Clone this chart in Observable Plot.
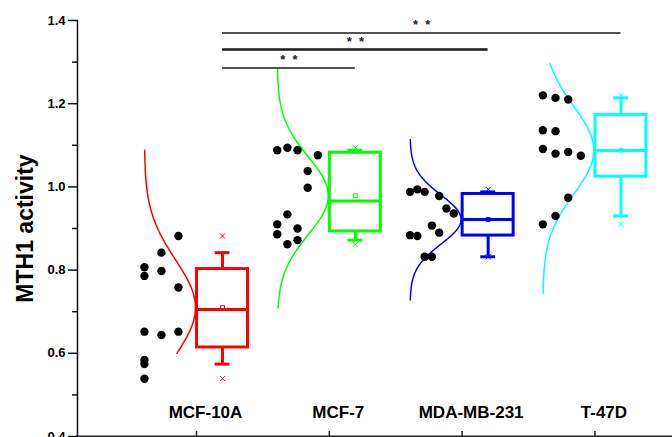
<!DOCTYPE html>
<html>
<head>
<meta charset="utf-8">
<script src="https://cdn.jsdelivr.net/npm/d3@7"></script>
<script src="https://cdn.jsdelivr.net/npm/@observablehq/plot@0.6"></script>
<style>
  body { margin: 0; background: #fff; }
  svg { display: block; }
</style>
</head>
<body>
<div id="chart"></div>
<script>
// ---------------- data ----------------
const categories = ["MCF-10A", "MCF-7", "MDA-MB-231", "T-47D"];
const groupColors = ["#ff0000", "#00ff00", "#0000ff", "#00ffff"];

const valuesMCF10A   = [0.882, 0.842, 0.807, 0.786, 0.798, 0.758, 0.652, 0.644, 0.652, 0.584, 0.574, 0.539];
const columnMCF10A   = [2, 1, 0, 0, 1, 2, 0, 1, 2, 0, 0, 0];
const valuesMCF7     = [1.088, 1.094, 1.088, 1.076, 1.038, 0.998, 0.934, 0.910, 0.900, 0.886, 0.862, 0.872];
const columnMCF7     = [0, 1, 2, 4, 3, 3, 1, 0, 2, 0, 1, 2];
const valuesMDAMB231 = [0.988, 0.994, 0.988, 0.978, 0.948, 0.936, 0.907, 0.890, 0.884, 0.882, 0.832, 0.832];
const columnMDAMB231 = [0, 1, 2, 4, 5, 6, 3, 4, 0, 1, 2, 3];
const valuesT47D     = [1.220, 1.214, 1.210, 1.136, 1.134, 1.091, 1.080, 1.084, 1.075, 0.974, 0.930, 0.910];
const columnT47D     = [0, 1, 2, 0, 1, 0, 1, 2, 3, 2, 1, 0];

// extent over which each fitted normal curve is drawn
const curveLow  = [0.600, 0.709, 0.728, 0.744];
const curveHigh = [1.088, 1.285, 1.114, 1.296];

// significance brackets
const sigFrom  = [0, 0, 0];
const sigTo    = [1, 2, 3];
const sigLevel = [1.286, 1.330, 1.370];
const sigLabel = ["*\u00a0\u00a0*", "*\u00a0\u00a0*", "*\u00a0\u00a0*"];

const yMajorTicks = [0.4, 0.6, 0.8, 1.0, 1.2, 1.4];
const yMinorTicks = [0.5, 0.7, 0.9, 1.1, 1.3];

// ---------------- layout (x in category units) ----------------
const X_MIN = 0.104, X_MAX = 4.584;
const BOX_OFFSET = 0.196, BOX_HALF = 0.192, CAP_HALF = 0.056;
const CURVE_BASE = -0.392, CURVE_AMP = 0.384;
const dotStep = [0.128, 0.0764, 0.0548, 0.0954];
const sigStrokeWidth = [1.5, 2.5, 1.5];

const valueArrays = [valuesMCF10A, valuesMCF7, valuesMDAMB231, valuesT47D];
const columnArrays = [columnMCF10A, columnMCF7, columnMDAMB231, columnT47D];

const stats = categories.map((name, i) => {
  const v = valueArrays[i];
  const s = d3.sort(v);
  const n = s.length;
  const lower = s.slice(0, Math.floor(n / 2));
  const upper = s.slice(Math.ceil(n / 2));
  return {
    name, i, pos: i + 1, color: groupColors[i],
    center: i + 1 + BOX_OFFSET,
    q1: d3.median(lower), med: d3.median(s), q3: d3.median(upper),
    wlo: s[1], whi: s[n - 2], min: s[0], max: s[n - 1],
    mean: d3.mean(v), sd: d3.deviation(v)
  };
});

const points = stats.flatMap((g) =>
  valueArrays[g.i].map((v, k) => ({
    x: g.pos + CURVE_BASE + columnArrays[g.i][k] * dotStep[g.i],
    y: v
  }))
);

const curves = stats.flatMap((g) => {
  const lo = curveLow[g.i], hi = curveHigh[g.i];
  return d3.range(0, 121).map((k) => {
    const v = lo + (hi - lo) * k / 120;
    return {
      group: g.name, color: g.color, y: v,
      x: g.pos + CURVE_BASE + CURVE_AMP * Math.exp(-((v - g.mean) ** 2) / (2 * g.sd * g.sd))
    };
  });
});

const extremes = stats.flatMap((g) => [
  {x: g.center, y: g.min, color: g.color},
  {x: g.center, y: g.max, color: g.color}
]);

const sig = sigFrom.map((f, k) => ({
  x1: stats[f].center, x2: stats[sigTo[k]].center,
  level: sigLevel[k], label: sigLabel[k], sw: sigStrokeWidth[k]
}));

const chart = Plot.plot({
  width: 672, height: 437,
  marginLeft: 77, marginRight: 0, marginTop: 20, marginBottom: 1,
  x: {domain: [X_MIN, X_MAX], axis: null},
  y: {domain: [0.4, 1.4], axis: null},
  color: {type: "identity"},
  style: {fontFamily: "'Liberation Sans', Arial, sans-serif", background: "#fff", overflow: "visible", color: "#000"},
  marks: [
    // fitted normal curves
    Plot.line(curves, {x: "x", y: "y", z: "group", stroke: "color", strokeWidth: 1.5}),
    // data points
    Plot.dot(points, {x: "x", y: "y", r: 4.2, fill: "black", stroke: "none"}),
    // whiskers
    Plot.ruleX(stats, {x: "center", y1: "q3", y2: "whi", stroke: "color", strokeWidth: 3}),
    Plot.ruleX(stats, {x: "center", y1: "wlo", y2: "q1", stroke: "color", strokeWidth: 3}),
    Plot.ruleY(stats, {y: "whi", x1: (d) => d.center - CAP_HALF, x2: (d) => d.center + CAP_HALF, stroke: "color", strokeWidth: 3}),
    Plot.ruleY(stats, {y: "wlo", x1: (d) => d.center - CAP_HALF, x2: (d) => d.center + CAP_HALF, stroke: "color", strokeWidth: 3}),
    // boxes
    Plot.rect(stats, {x1: (d) => d.center - BOX_HALF, x2: (d) => d.center + BOX_HALF, y1: "q1", y2: "q3", stroke: "color", fill: "white", strokeWidth: 3}),
    Plot.ruleY(stats, {y: "med", x1: (d) => d.center - BOX_HALF, x2: (d) => d.center + BOX_HALF, stroke: "color", strokeWidth: 3}),
    // mean and min/max markers
    Plot.dot(stats, {x: "center", y: "mean", symbol: "square", r: 2.2, stroke: "color", strokeWidth: 1, fill: "none"}),
    Plot.dot(extremes, {x: "x", y: "y", symbol: "times", r: 2.4, stroke: "color", strokeWidth: 1}),
    // significance brackets
    Plot.ruleY(sig, {y: "level", x1: "x1", x2: "x2", stroke: "#1a1a1a", strokeWidth: "sw"}),
    Plot.text(sig, {x: (d) => (d.x1 + d.x2) / 2, y: "level", dy: -8, text: "label", fontSize: 13, fontWeight: "bold", fill: "#222"}),
    // axes
    Plot.frame({anchor: "left", stroke: "#111", strokeWidth: 1.5}),
    Plot.frame({anchor: "bottom", stroke: "#222", strokeWidth: 2}),
    Plot.axisY({ticks: yMajorTicks, tickSize: 9, tickPadding: 3, tickFormat: d3.format(".1f"),
      fontSize: 13, fontWeight: "bold", label: null, strokeWidth: 1.5, stroke: "#111"}),
    Plot.ruleY(yMinorTicks, {y: (d) => d, x1: X_MIN, x2: X_MIN, insetLeft: -5, stroke: "#111", strokeWidth: 1.5}),
    Plot.ruleX(categories, {x: (d, i) => i + 1, y1: 0.4, y2: 0.4, insetTop: -5, stroke: "#222", strokeWidth: 1.5}),
    Plot.text(categories, {x: (d, i) => i + 1, frameAnchor: "bottom", dy: -19, dx: 9, text: (d) => d,
      fontSize: 17, fontWeight: "bold", fill: "#000"}),
    Plot.text(["MTH1 activity"], {frameAnchor: "left", dx: -52, rotate: -90, text: (d) => d,
      textAnchor: "middle", fontSize: 23, fontWeight: "bold", fill: "#000"})
  ]
});

document.getElementById("chart").append(chart);
</script>
</body>
</html>
